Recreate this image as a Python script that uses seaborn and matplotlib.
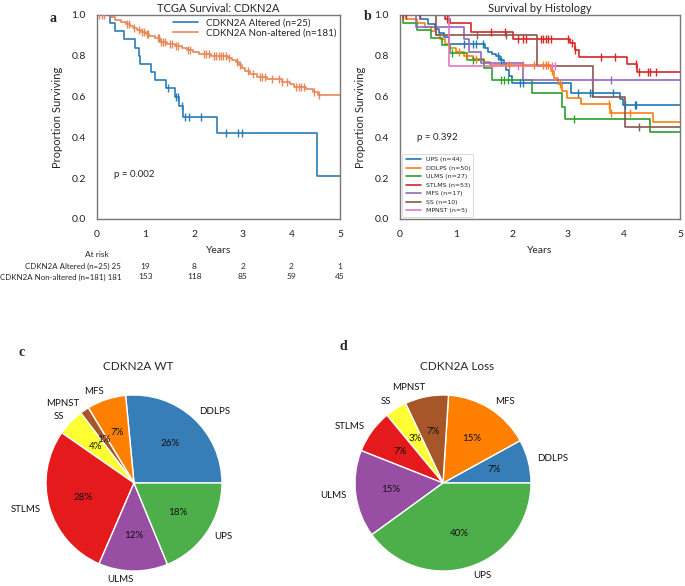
import numpy as np
import pandas as pd
import matplotlib
matplotlib.use("Agg")
import matplotlib.pyplot as plt
import seaborn as sns

# ---------------- Panel a: TCGA survival by CDKN2A status ----------------
altered_label = "CDKN2A Altered (n=25)"
nonaltered_label = "CDKN2A Non-altered (n=181)"

altered_event_times = [0.26, 0.38, 0.55, 0.79, 0.86, 0.89, 1.12, 1.20, 1.41, 1.60, 1.68, 1.77, 2.47, 4.52]
altered_surv = [0.96, 0.92, 0.88, 0.84, 0.80, 0.76, 0.72, 0.68, 0.64, 0.60, 0.555, 0.50, 0.42, 0.21]
altered_censor_times = [1.46, 1.63, 1.66, 1.75, 1.82, 1.89, 2.13, 2.66, 2.90, 2.98]

nonaltered_event_times = [0.28, 0.38, 0.50, 0.60, 0.68, 0.75, 0.82, 0.90, 1.00, 1.08,
                          1.20, 1.30, 1.45, 1.60, 1.75, 1.85, 1.98, 2.10, 2.35, 2.70,
                          2.78, 2.86, 2.92, 2.98, 3.05, 3.15, 3.30, 3.50, 3.80, 3.98,
                          4.05, 4.30, 4.45, 4.55]
nonaltered_surv = [0.99, 0.975, 0.965, 0.955, 0.945, 0.935, 0.925, 0.915, 0.905, 0.895,
                   0.885, 0.87, 0.86, 0.85, 0.84, 0.83, 0.82, 0.81, 0.80, 0.79,
                   0.78, 0.77, 0.755, 0.74, 0.725, 0.71, 0.695, 0.685, 0.67, 0.66,
                   0.645, 0.635, 0.625, 0.61]
nonaltered_censor_times = [0.05, 0.10, 0.15, 0.62, 0.66, 0.76, 0.86, 0.92, 0.96, 1.02, 1.05,
                           1.25, 1.28, 1.32, 1.35, 1.40, 1.50, 1.55, 1.62, 1.66,
                           1.87, 1.92, 2.20, 2.25, 2.30, 2.40, 2.45, 2.50, 2.55, 2.60, 2.65,
                           2.72, 2.88, 2.94, 3.10, 3.20, 3.35, 3.40, 3.45, 3.60, 3.75, 3.80,
                           3.90, 4.10, 4.15, 4.20, 4.25, 4.47, 4.57]
followup_end_a = [5.0, 5.0]

risk_years = [0, 1, 2, 3, 4, 5]
risk_altered = [25, 19, 8, 2, 2, 1]
risk_nonaltered = [181, 153, 118, 85, 59, 45]
p_value_a = "p = 0.002"

# ---------------- Panel b: survival by histology ----------------
hist_labels = ["UPS (n=44)", "DDLPS (n=50)", "ULMS (n=27)", "STLMS (n=53)",
               "MFS (n=17)", "SS (n=10)", "MPNST (n=5)"]
hist_colors = ["#1f77b4", "#ff7f0e", "#2ca02c", "#d62728", "#9467bd", "#8c564b", "#e377c2"]

ups_times = [0.35, 0.50, 0.62, 0.70, 0.78, 0.88, 1.52, 1.58, 1.65, 1.72, 1.78, 1.85, 1.90, 1.95, 2.00, 3.05, 3.92, 3.98]
ups_surv = [0.98, 0.955, 0.93, 0.91, 0.89, 0.86, 0.84, 0.82, 0.81, 0.80, 0.78, 0.76, 0.73, 0.70, 0.665, 0.62, 0.59, 0.56]
ups_censor = [1.15, 1.30, 1.36, 1.48, 1.75, 1.80, 2.15, 2.20, 3.18, 3.39, 3.42, 3.80, 4.02, 4.19, 4.22]

ddlps_times = [0.10, 0.30, 0.45, 0.55, 0.65, 0.72, 0.80, 0.90, 1.00, 1.15, 1.30, 1.50, 1.60,
               2.70, 2.75, 2.83, 2.90, 2.99, 3.23, 3.75, 4.52]
ddlps_surv = [0.98, 0.96, 0.94, 0.92, 0.90, 0.88, 0.86, 0.84, 0.82, 0.80, 0.785, 0.77, 0.755,
              0.725, 0.69, 0.66, 0.627, 0.595, 0.562, 0.52, 0.475]
ddlps_censor = [1.05, 1.20, 1.35, 1.95, 2.20, 2.40, 2.55, 2.60, 2.65, 2.72, 2.85, 3.73, 3.77, 4.11]

ulms_times = [0.05, 0.30, 0.55, 0.75, 0.90, 1.20, 1.50, 1.65, 2.35, 2.90, 2.95, 4.46]
ulms_surv = [0.963, 0.926, 0.889, 0.852, 0.815, 0.778, 0.741, 0.68, 0.62, 0.55, 0.49, 0.425]
ulms_censor = [0.92, 1.30, 1.80, 1.85, 1.92, 3.10]

stlms_times = [0.80, 0.90, 1.27, 2.02, 3.04, 3.12, 3.20, 4.06, 4.24]
stlms_surv = [0.98, 0.96, 0.918, 0.88, 0.863, 0.83, 0.796, 0.76, 0.72]
stlms_censor = [0.05, 0.10, 0.35, 0.84, 1.63, 1.87, 2.10, 2.20, 2.25, 2.52, 2.56, 2.60, 2.65,
                2.70, 3.00, 3.07, 3.12, 3.59, 3.84, 4.22, 4.27, 4.42, 4.46, 4.58]

mfs_times = [0.28, 1.15, 1.24, 1.44, 2.20]
mfs_surv = [0.94, 0.88, 0.82, 0.765, 0.68]
mfs_censor = [3.43, 3.77]

ss_times = [0.65, 2.45, 3.45, 4.02]
ss_surv = [0.90, 0.75, 0.60, 0.45]
ss_censor = [1.37, 1.90, 4.27]

mpnst_times = [0.87]
mpnst_surv = [0.75]
mpnst_censor = [1.65, 2.10, 2.72, 2.77]

hist_event_times = [ups_times, ddlps_times, ulms_times, stlms_times, mfs_times, ss_times, mpnst_times]
hist_surv = [ups_surv, ddlps_surv, ulms_surv, stlms_surv, mfs_surv, ss_surv, mpnst_surv]
hist_censor = [ups_censor, ddlps_censor, ulms_censor, stlms_censor, mfs_censor, ss_censor, mpnst_censor]
hist_followup_end = [5.0, 5.0, 5.0, 5.0, 5.0, 5.0, 2.78]
p_value_b = "p = 0.392"

# ---------------- Panels c, d: histology pies ----------------
pie_categories = ["DDLPS", "MFS", "MPNST", "SS", "STLMS", "ULMS", "UPS"]
pie_colors = ["#377eb8", "#ff7f00", "#a65628", "#ffff33", "#e41a1c", "#984ea3", "#4daf4a"]
wt_counts = [48, 13, 3, 9, 51, 23, 34]
loss_counts = [2, 4, 2, 1, 2, 4, 10]
wt_pct_labels = ["26%", "7%", "1%", "4%", "28%", "12%", "18%"]
loss_pct_labels = ["7%", "15%", "7%", "3%", "7%", "15%", "40%"]

# ---------------- styling ----------------
sns.set_theme(style="white")
plt.rcParams["font.family"] = ["Lato", "DejaVu Sans"]
W, H = 685, 586
fig = plt.figure(figsize=(W / 100, H / 100), dpi=100)


def px_rect(left, top, right, bottom):
    return [left / W, 1 - bottom / H, (right - left) / W, (bottom - top) / H]


def km_frame(times, surv, end):
    return pd.DataFrame({"t": [0.0] + list(times) + [end],
                         "s": [1.0] + list(surv) + [surv[-1]]})


def surv_at(times, surv, query):
    idx = np.searchsorted(np.asarray(times), np.asarray(query), side="right")
    return np.r_[1.0, surv][idx]


def draw_km(ax, times, surv, censor, end, color, label, lw, ms):
    df = km_frame(times, surv, end)
    sns.lineplot(data=df, x="t", y="s", drawstyle="steps-post", estimator=None, sort=False,
                 color=color, lw=lw, ax=ax, label=label)
    cs = surv_at(times, surv, censor)
    ax.scatter(censor, cs, marker="|", s=ms, color=color, linewidths=1.0, zorder=3)


def style_km(ax, title):
    ax.set_xlim(0, 5)
    ax.set_ylim(0, 1)
    ax.set_xticks([0, 1, 2, 3, 4, 5])
    ax.set_yticks([0.0, 0.2, 0.4, 0.6, 0.8, 1.0])
    ax.set_yticklabels(["0.0", "0.2", "0.4", "0.6", "0.8", "1.0"])
    ax.tick_params(labelsize=7.5, pad=2, colors="#222222")
    for sp in ax.spines.values():
        sp.set_color("#777777")
        sp.set_linewidth(1.0)
    ax.set_xlabel("Years", fontsize=7.5, labelpad=5)
    ax.set_ylabel("Proportion Surviving", fontsize=8, labelpad=6)
    ax.set_title(title, fontsize=8, pad=2)


# Panel a
ax_a = fig.add_axes(px_rect(97, 15, 340, 219))
draw_km(ax_a, altered_event_times, altered_surv, altered_censor_times, followup_end_a[0],
        "#2c7bb6", altered_label, 1.2, 40)
draw_km(ax_a, nonaltered_event_times, nonaltered_surv, nonaltered_censor_times, followup_end_a[1],
        "#e8875a", nonaltered_label, 1.2, 40)
style_km(ax_a, "TCGA Survival: CDKN2A")
ax_a.legend(loc="upper right", frameon=False, fontsize=7, handlelength=2.6,
            labelspacing=0.1, borderaxespad=0.2, borderpad=0.2)
ax_a.text(0.35, 0.22, p_value_a, fontsize=7, va="center", ha="left")

# at-risk table
xt = ax_a.get_xaxis_transform()
ax_a.text(0.0, -0.176, "At risk", transform=xt, fontsize=6.0, ha="center", va="center")
row_y = [-0.232, -0.284]
row_labels = [altered_label, nonaltered_label]
row_counts = [risk_altered, risk_nonaltered]
for yy, lbl, counts in zip(row_y, row_labels, row_counts):
    ax_a.text(0.50, yy, f"{lbl} {counts[0]}", transform=xt, fontsize=5.7,
              ha="right", va="center", clip_on=False)
    for yr, c in zip(risk_years[1:], counts[1:]):
        ax_a.text(yr, yy, str(c), transform=xt, fontsize=6.0, ha="center", va="center")

# Panel b
ax_b = fig.add_axes(px_rect(400, 15, 680, 219))
for tms, sv, cen, end, col, lbl in zip(hist_event_times, hist_surv, hist_censor,
                                       hist_followup_end, hist_colors, hist_labels):
    draw_km(ax_b, tms, sv, cen, end, col, lbl, 1.2, 40)
style_km(ax_b, "Survival by Histology")
leg = ax_b.legend(loc="lower left", fontsize=4.5, frameon=True, handlelength=2.4,
                  labelspacing=0.5, borderpad=0.5, borderaxespad=0.4,
                  prop={"family": "DejaVu Sans", "size": 4.5})
leg.get_frame().set_edgecolor("#cccccc")
leg.get_frame().set_linewidth(0.6)
ax_b.text(0.30, 0.40, p_value_b, fontsize=7, va="center", ha="left")

# Pies
R = 88
def pie_axes(cx, cy):
    half = 1.25 * R
    return fig.add_axes(px_rect(cx - half, cy - half, cx + half, cy + half))


def make_autopct(labels):
    it = iter(labels)
    return lambda pct: next(it)


for cx, cy, counts, pct_labels, title, tx in [
        (134, 483, wt_counts, wt_pct_labels, "CDKN2A WT", 138),
        (443, 483, loss_counts, loss_pct_labels, "CDKN2A Loss", 457)]:
    ax = pie_axes(cx, cy)
    ax.pie(counts, labels=pie_categories, colors=pie_colors, startangle=0,
           autopct=make_autopct(pct_labels), pctdistance=0.6, labeldistance=1.1,
           wedgeprops={"edgecolor": "white", "linewidth": 1.0},
           textprops={"fontsize": 7, "color": "#111111"})
    ax.set_xlim(-1.25, 1.25)
    ax.set_ylim(-1.25, 1.25)
    ax.set_aspect("equal")
    ax.axis("off")
    fig.text(tx / W, 1 - 367 / H, title, fontsize=8.5, ha="center", va="center")

# panel letters
for lx, ly, letter in [(53, 18, "a"), (368, 17, "b"), (22, 352, "c"), (343, 346, "d")]:
    fig.text(lx / W, 1 - ly / H, letter, fontsize=10, fontweight="bold",
             family="Liberation Serif", ha="center", va="center")

fig.savefig("out.png", dpi=100)
